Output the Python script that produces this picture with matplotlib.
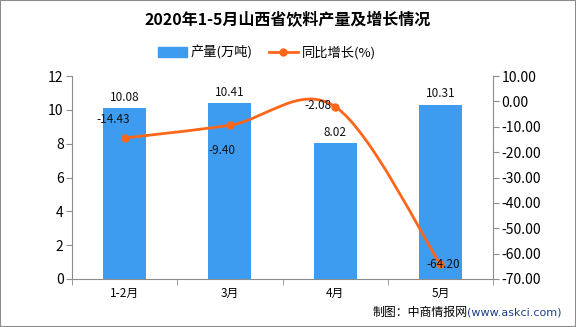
import numpy as np
import matplotlib
matplotlib.use('Agg')
import matplotlib.pyplot as plt
from matplotlib.path import Path
from matplotlib.patches import PathPatch, Rectangle
from matplotlib.lines import Line2D

plt.rcParams['font.family'] = ['Noto Sans CJK SC', 'DejaVu Sans']
plt.rcParams['axes.unicode_minus'] = False

# 数据
months = ['1-2月', '3月', '4月', '5月']
output = [10.08, 10.41, 8.02, 10.31]        # 产量(万吨)
growth = [-14.43, -9.40, -2.08, -64.20]     # 同比增长(%)

# 标签偏移(像素) - 仅用于样式
growth_label_offset = [(-8, 13), (-6, -18), (-12, 1), (2, 0)]

bar_color = '#3d9cf0'
line_color = '#ff661a'
axis_color = '#8c8c8c'


def smooth_path(xs, ys, k=1 / 6):
    # 贝塞尔平滑曲线(仅用于绘制)
    pts = np.column_stack([xs, ys]).astype(float)
    n = len(pts)
    verts = [pts[0]]
    codes = [Path.MOVETO]
    for i in range(n - 1):
        p0 = pts[i - 1] if i > 0 else pts[i]
        p1 = pts[i]
        p2 = pts[i + 1]
        p3 = pts[i + 2] if i + 2 < n else pts[i + 1]
        c1 = p1 + (p2 - p0) * k
        c2 = p2 - (p3 - p1) * k
        verts += [c1, c2, p2]
        codes += [Path.CURVE4] * 3
    return Path(verts, codes)


fig = plt.figure(figsize=(5.76, 3.27), dpi=100)
ax = fig.add_axes([72 / 576, 1 - 279 / 327, 421 / 576, 203 / 327])
x = np.arange(len(months))

ax.bar(x, output, width=0.41, color=bar_color, zorder=2)
for xi, v in zip(x, output):
    ax.annotate(f'{v:.2f}', (xi, v), xytext=(0, 3), textcoords='offset points',
                ha='center', va='bottom', fontsize=8.5, color='#111111')

ax.set_xlim(-0.5, len(months) - 0.5)
ax.set_ylim(0, 12)
ax.set_yticks(range(0, 13, 2))
ax.set_xticks(x)
ax.set_xticklabels(months)
ax.set_xticks(np.arange(-0.5, len(months), 1), minor=True)
ax.tick_params(axis='x', which='major', length=0, pad=6, labelsize=8.5)
ax.tick_params(axis='x', which='minor', length=4, color=axis_color)
ax.tick_params(axis='y', length=4, color=axis_color, labelsize=10, pad=2)
for s in ['left', 'bottom']:
    ax.spines[s].set_color(axis_color)
ax.spines['top'].set_visible(False)
ax.spines['right'].set_visible(False)

ax2 = ax.twinx()
ax2.set_ylim(-70, 10)
ax2.set_yticks(range(-70, 11, 10))
ax2.set_yticklabels([f'{t:.2f}' for t in range(-70, 11, 10)])
ax2.tick_params(axis='y', length=4, color=axis_color, labelsize=10, pad=2)
ax2.spines['right'].set_color(axis_color)
for s in ['top', 'left', 'bottom']:
    ax2.spines[s].set_visible(False)

ax2.add_patch(PathPatch(smooth_path(x, growth), fill=False, edgecolor=line_color,
                        lw=2, zorder=3))
ax2.plot(x, growth, 'o', color=line_color, ms=5, zorder=4)
for xi, v, (dx, dy) in zip(x, growth, growth_label_offset):
    ax2.annotate(f'{v:.2f}', (xi, v), xytext=(dx, dy), textcoords='offset points',
                 ha='center', va='center', fontsize=8.5, color='#111111', zorder=5)

fig.text(0.5, 0.94, '2020年1-5月山西省饮料产量及增长情况', ha='center', va='center',
         fontsize=11.5, fontweight='bold')

handles = [Rectangle((0, 0), 1, 1, color=bar_color),
           Line2D([], [], color=line_color, lw=2, marker='o', ms=5)]
fig.legend(handles, ['产量(万吨)', '同比增长(%)'], loc='center', bbox_to_anchor=(0.463, 0.84),
           ncol=2, frameon=False, fontsize=9.5, handlelength=2.2, handleheight=0.8,
           columnspacing=1.2, handletextpad=0.3)

fig.text(0.811, 0.043, '制图：中商情报网', ha='right', va='center', fontsize=8.6)
fig.text(0.811, 0.043, '(www.askci.com)', ha='left', va='center', fontsize=8,
         color='#1f3d8c', family='DejaVu Sans')

fig.patches.append(Rectangle((0, 0), 1, 1, transform=fig.transFigure, fill=False,
                             edgecolor='#8c8c8c', lw=1.5))

fig.savefig('out.png', dpi=100)
